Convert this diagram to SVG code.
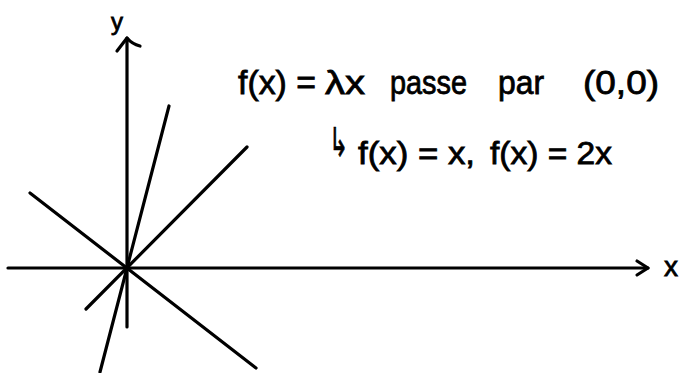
<svg xmlns="http://www.w3.org/2000/svg" width="686" height="373" viewBox="0 0 686 373">
<style>
.ln{stroke:#000;stroke-width:3.2;fill:none;stroke-linecap:round;stroke-linejoin:round}
.t{font-family:"Liberation Sans","DejaVu Sans",sans-serif;fill:#000;stroke:#000;stroke-width:0.8}
</style>
<rect width="686" height="373" fill="#fff"/>
<g id="axes">
<path class="ln" d="M8,268 L648,268"/>
<path class="ln" d="M637,261 L648,268 L637,275"/>
<path class="ln" d="M127,327 L127,38"/>
<path class="ln" d="M117,51 L127,38 Q132,44 140,46"/>
<text class="t" x="111" y="30" font-size="24">y</text>
<text class="t" x="664" y="276" font-size="28">x</text>
</g>
<g id="lines">
<path class="ln" d="M169,106 L100,372"/>
<path class="ln" d="M247,147 L86,309"/>
<path class="ln" d="M30,193 L256,368"/>
</g>
<g id="label">
<text class="t" y="94" font-size="34">
<tspan x="238" textLength="78" lengthAdjust="spacingAndGlyphs">f(x) =</tspan>
<tspan x="325" textLength="40" lengthAdjust="spacingAndGlyphs">λx</tspan>
<tspan x="390" textLength="77" lengthAdjust="spacingAndGlyphs">passe</tspan>
<tspan x="498" textLength="46" lengthAdjust="spacingAndGlyphs">par</tspan>
<tspan x="583" textLength="76" lengthAdjust="spacingAndGlyphs">(0,0)</tspan>
</text>
<text class="t" x="329" y="156" font-size="40" textLength="19" lengthAdjust="spacingAndGlyphs">↳</text>
<text class="t" y="164" font-size="32">
<tspan x="358" textLength="117" lengthAdjust="spacingAndGlyphs">f(x) = x,</tspan>
<tspan x="490" textLength="122" lengthAdjust="spacingAndGlyphs">f(x) = 2x</tspan>
</text>
</g>
</svg>
